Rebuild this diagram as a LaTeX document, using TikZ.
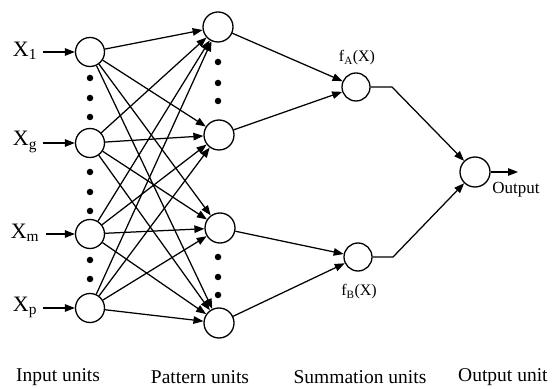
\documentclass[tikz,border=0pt]{standalone}
\usepackage{fontspec}
\setmainfont{Liberation Serif}
\usetikzlibrary{arrows.meta}
\tikzset{
  unit/.style={circle,draw,line width=1.3pt,minimum size=#1,inner sep=0pt,fill=white},
  unit/.default=29pt,
  conn/.style={line width=1.25pt,-{Triangle[length=10pt,width=7.5pt]}},
  dotmark/.style={circle,fill=black,inner sep=0pt,minimum size=6.5pt},
  xlab/.style={font=\fontsize{22}{24}\selectfont,inner sep=0pt},
  flab/.style={font=\fontsize{16}{18}\selectfont,inner sep=0pt},
  olab/.style={font=\fontsize{17}{19}\selectfont,inner sep=0pt},
  blab/.style={font=\fontsize{19.5}{21}\selectfont,inner sep=0pt}
}
\begin{document}
\begin{tikzpicture}[x=1pt,y=1pt]
\useasboundingbox (0,0) rectangle (556,388);
% input units
\node[unit] (i1) at (90,336) {};
\node[unit] (ig) at (90,245) {};
\node[unit] (im) at (90,154) {};
\node[unit] (ip) at (90,80) {};
% pattern units
\node[unit=30pt] (p1) at (218,361) {};
\node[unit=30pt] (p2) at (219,253) {};
\node[unit=30pt] (p3) at (220,160) {};
\node[unit=30pt] (p4) at (219,65) {};
% summation units
\node[unit=28pt] (sa) at (356,301) {};
\node[unit=28pt] (sb) at (358,131) {};
% output unit
\node[unit=30pt] (o) at (475,216) {};
% input labels
\node[xlab] (x1) at (25,337) {X\textsubscript{1}};
\node[xlab] (xg) at (25,246) {X\textsubscript{g}};
\node[xlab] (xm) at (25,155) {X\textsubscript{m}};
\node[xlab] (xp) at (25,81) {X\textsubscript{p}};
\coordinate (a1) at (43,336);
\coordinate (ag) at (43,245);
\coordinate (am) at (46,154);
\coordinate (ap) at (43,80);
\draw[conn] (a1) -- (i1);
\draw[conn] (ag) -- (ig);
\draw[conn] (am) -- (im);
\draw[conn] (ap) -- (ip);
% input to pattern
\foreach \i in {i1,ig,im,ip}{
  \foreach \p in {p1,p2,p3,p4}{
    \draw[conn] (\i) -- (\p);
  }
}
% pattern to summation
\draw[conn] (p1) -- (sa);
\draw[conn] (p2) -- (sa);
\draw[conn] (p3) -- (sb);
\draw[conn] (p4) -- (sb);
% summation to output
\coordinate (ba) at (392,301);
\coordinate (bb) at (393,131);
\draw[conn] (sa.east) -- (ba) -- (o);
\draw[conn] (sb.east) -- (bb) -- (o);
\coordinate (oe) at (518,216);
\draw[conn] (o) -- (oe);
% labels
\node[flab] (fa) at (357,330) {f\textsubscript{A}(X)};
\node[flab] (fb) at (359,96) {f\textsubscript{B}(X)};
\node[olab] (ol) at (516,198) {Output};
% dots
\foreach \y in {310,290,271,216,196,177,128,109}{
  \node[dotmark] at (90,\y) {};
}
\foreach \y in {326,305,287,131,111,93}{
  \node[dotmark] at (218,\y) {};
}
% bottom labels
\node[blab] (l1) at (58,11) {Input units};
\node[blab] (l2) at (200,11) {Pattern units};
\node[blab] (l3) at (360,11) {Summation units};
\node[blab,anchor=west] (l4) at (458,11) {Output unit};
\end{tikzpicture}
\end{document}
